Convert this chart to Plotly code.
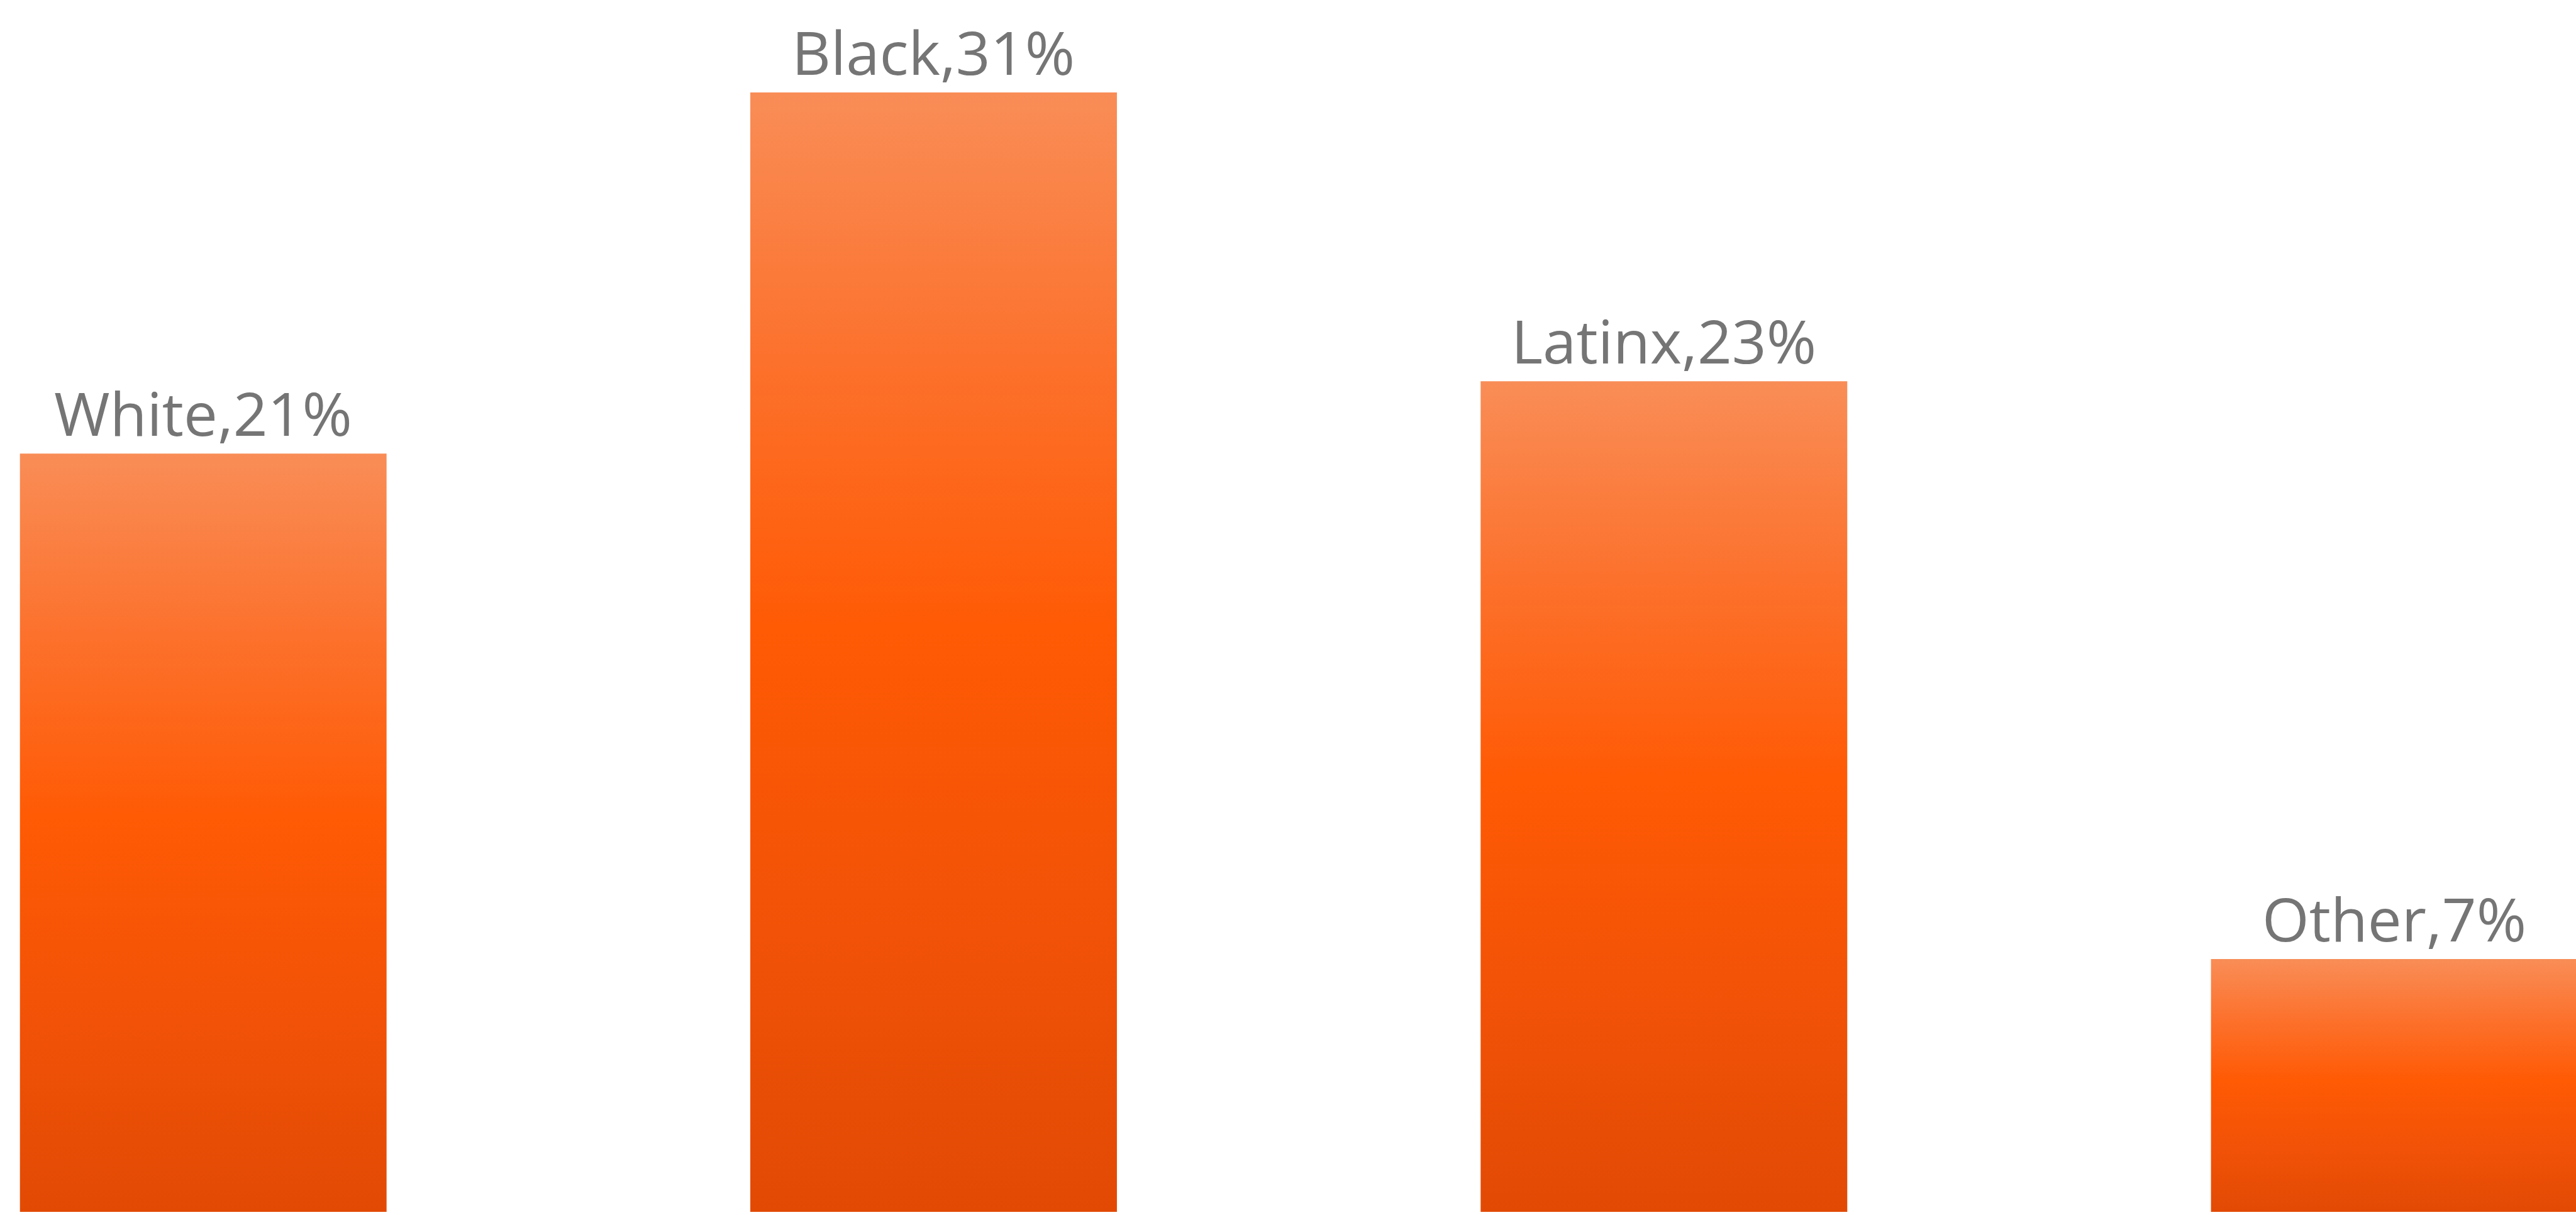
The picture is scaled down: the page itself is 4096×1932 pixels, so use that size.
import plotly.graph_objects as go

# Share of respondents by race / ethnicity
categories = ["White", "Black", "Latinx", "Other"]
shares = [21, 31, 23, 7]

BAR_HALF_WIDTH = 0.251
LABEL_COLOR = "#757575"
# bottom -> middle -> top of each bar
GRADIENT = [
    [0.0, "#E24A04"],
    [0.25, "#F15207"],
    [0.52, "#FF5A04"],
    [0.76, "#FC712C"],
    [1.0, "#F98D57"],
]

fig = go.Figure()

for i, (cat, val) in enumerate(zip(categories, shares)):
    x0, x1 = i - BAR_HALF_WIDTH, i + BAR_HALF_WIDTH
    fig.add_trace(
        go.Scatter(
            x=[x0, x1, x1, x0, x0],
            y=[0, 0, val, val, 0],
            mode="lines",
            line=dict(width=0),
            fill="toself",
            fillgradient=dict(type="vertical", colorscale=GRADIENT),
            name=cat,
            hoverinfo="text",
            text=f"{cat}: {val}%",
            showlegend=False,
        )
    )
    fig.add_annotation(
        x=i,
        y=val,
        xref="x",
        yref="y",
        text=f"{cat},{val}%",
        showarrow=False,
        xanchor="center",
        yanchor="bottom",
        yshift=-2,
        font=dict(family="Open Sans", size=96, color=LABEL_COLOR),
    )

fig.update_layout(
    width=4096,
    height=1932,
    margin=dict(l=0, r=0, t=0, b=5),
    paper_bgcolor="white",
    plot_bgcolor="white",
    xaxis=dict(range=[-0.2783, 3.2488], visible=False, fixedrange=True),
    yaxis=dict(range=[0, 33.56], visible=False, fixedrange=True),
)

fig.write_html("out.html")
